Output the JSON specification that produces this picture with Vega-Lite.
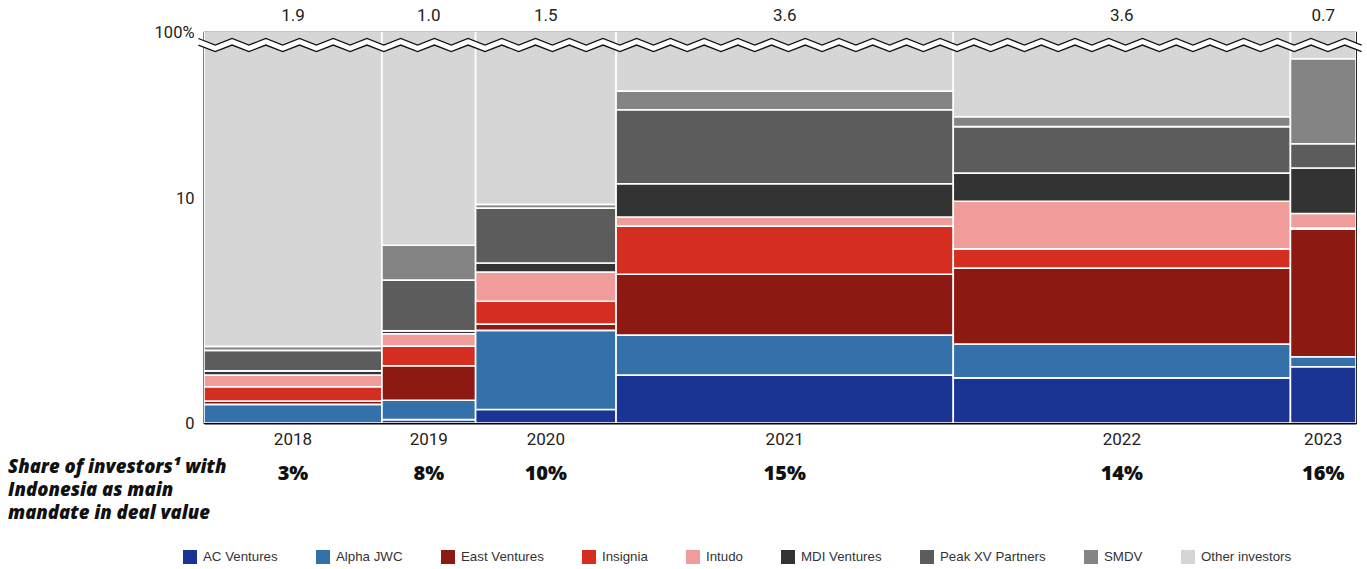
{
  "$schema": "https://vega.github.io/schema/vega-lite/v6.json",
  "width": 1152,
  "height": 391,
  "autosize": {"type": "none"},
  "padding": {"left": 204, "top": 32, "right": 11, "bottom": 146},
  "background": "white",
  "config": {
    "view": {"stroke": "#111", "strokeWidth": 1.2},
    "font": "Roboto",
    "axisX": {"domainColor": "#000", "domainWidth": 2.2, "labels": false, "ticks": false, "grid": false},
    "axisY": {"domainColor": "#000", "domainWidth": 1.6, "ticks": false, "grid": false, "labelFont": "Roboto", "labelFontSize": 16.5, "labelColor": "#222", "labelPadding": 10}
  },
  "datasets": {
    "years": [
      {"year": 2018, "deal": 1.9, "indoShare": 0.03},
      {"year": 2019, "deal": 1.0, "indoShare": 0.08},
      {"year": 2020, "deal": 1.5, "indoShare": 0.10},
      {"year": 2021, "deal": 3.6, "indoShare": 0.15},
      {"year": 2022, "deal": 3.6, "indoShare": 0.14},
      {"year": 2023, "deal": 0.7, "indoShare": 0.16}
    ],
    "shares": [
      {"year": 2018, "investor": "AC Ventures", "share": 0},
      {"year": 2018, "investor": "Alpha JWC", "share": 0.83},
      {"year": 2018, "investor": "East Ventures", "share": 0.15},
      {"year": 2018, "investor": "Insignia", "share": 0.63},
      {"year": 2018, "investor": "Intudo", "share": 0.52},
      {"year": 2018, "investor": "MDI Ventures", "share": 0.19},
      {"year": 2018, "investor": "Peak XV Partners", "share": 0.91},
      {"year": 2018, "investor": "SMDV", "share": 0.18},
      {"year": 2018, "investor": "Other investors", "share": 96.59},
      {"year": 2019, "investor": "AC Ventures", "share": 0.15},
      {"year": 2019, "investor": "Alpha JWC", "share": 0.86},
      {"year": 2019, "investor": "East Ventures", "share": 1.54},
      {"year": 2019, "investor": "Insignia", "share": 0.87},
      {"year": 2019, "investor": "Intudo", "share": 0.55},
      {"year": 2019, "investor": "MDI Ventures", "share": 0.13},
      {"year": 2019, "investor": "Peak XV Partners", "share": 2.26},
      {"year": 2019, "investor": "SMDV", "share": 1.55},
      {"year": 2019, "investor": "Other investors", "share": 92.09},
      {"year": 2020, "investor": "AC Ventures", "share": 0.6},
      {"year": 2020, "investor": "Alpha JWC", "share": 3.52},
      {"year": 2020, "investor": "East Ventures", "share": 0.28},
      {"year": 2020, "investor": "Insignia", "share": 1.02},
      {"year": 2020, "investor": "Intudo", "share": 1.3},
      {"year": 2020, "investor": "MDI Ventures", "share": 0.4},
      {"year": 2020, "investor": "Peak XV Partners", "share": 2.44},
      {"year": 2020, "investor": "SMDV", "share": 0.17},
      {"year": 2020, "investor": "Other investors", "share": 90.27},
      {"year": 2021, "investor": "AC Ventures", "share": 2.13},
      {"year": 2021, "investor": "Alpha JWC", "share": 1.78},
      {"year": 2021, "investor": "East Ventures", "share": 2.71},
      {"year": 2021, "investor": "Insignia", "share": 2.14},
      {"year": 2021, "investor": "Intudo", "share": 0.41},
      {"year": 2021, "investor": "MDI Ventures", "share": 1.48},
      {"year": 2021, "investor": "Peak XV Partners", "share": 3.29},
      {"year": 2021, "investor": "SMDV", "share": 0.83},
      {"year": 2021, "investor": "Other investors", "share": 85.23},
      {"year": 2022, "investor": "AC Ventures", "share": 2.01},
      {"year": 2022, "investor": "Alpha JWC", "share": 1.5},
      {"year": 2022, "investor": "East Ventures", "share": 3.38},
      {"year": 2022, "investor": "Insignia", "share": 0.86},
      {"year": 2022, "investor": "Intudo", "share": 2.12},
      {"year": 2022, "investor": "MDI Ventures", "share": 1.25},
      {"year": 2022, "investor": "Peak XV Partners", "share": 2.07},
      {"year": 2022, "investor": "SMDV", "share": 0.44},
      {"year": 2022, "investor": "Other investors", "share": 86.37},
      {"year": 2023, "investor": "AC Ventures", "share": 2.5},
      {"year": 2023, "investor": "Alpha JWC", "share": 0.45},
      {"year": 2023, "investor": "East Ventures", "share": 5.67},
      {"year": 2023, "investor": "Insignia", "share": 0.05},
      {"year": 2023, "investor": "Intudo", "share": 0.65},
      {"year": 2023, "investor": "MDI Ventures", "share": 2.03},
      {"year": 2023, "investor": "Peak XV Partners", "share": 1.08},
      {"year": 2023, "investor": "SMDV", "share": 3.78},
      {"year": 2023, "investor": "Other investors", "share": 83.79}
    ],
    "axisBreak": [
      {"bx": -0.06, "hi": 17.11, "lo": 16.82}, {"bx": 0.12, "hi": 16.82, "lo": 16.53},
      {"bx": 0.30, "hi": 17.11, "lo": 16.82}, {"bx": 0.48, "hi": 16.82, "lo": 16.53},
      {"bx": 0.66, "hi": 17.11, "lo": 16.82}, {"bx": 0.84, "hi": 16.82, "lo": 16.53},
      {"bx": 1.02, "hi": 17.11, "lo": 16.82}, {"bx": 1.20, "hi": 16.82, "lo": 16.53},
      {"bx": 1.38, "hi": 17.11, "lo": 16.82}, {"bx": 1.56, "hi": 16.82, "lo": 16.53},
      {"bx": 1.74, "hi": 17.11, "lo": 16.82}, {"bx": 1.92, "hi": 16.82, "lo": 16.53},
      {"bx": 2.10, "hi": 17.11, "lo": 16.82}, {"bx": 2.28, "hi": 16.82, "lo": 16.53},
      {"bx": 2.46, "hi": 17.11, "lo": 16.82}, {"bx": 2.64, "hi": 16.82, "lo": 16.53},
      {"bx": 2.82, "hi": 17.11, "lo": 16.82}, {"bx": 3.00, "hi": 16.82, "lo": 16.53},
      {"bx": 3.18, "hi": 17.11, "lo": 16.82}, {"bx": 3.36, "hi": 16.82, "lo": 16.53},
      {"bx": 3.54, "hi": 17.11, "lo": 16.82}, {"bx": 3.72, "hi": 16.82, "lo": 16.53},
      {"bx": 3.90, "hi": 17.11, "lo": 16.82}, {"bx": 4.08, "hi": 16.82, "lo": 16.53},
      {"bx": 4.26, "hi": 17.11, "lo": 16.82}, {"bx": 4.44, "hi": 16.82, "lo": 16.53},
      {"bx": 4.62, "hi": 17.11, "lo": 16.82}, {"bx": 4.80, "hi": 16.82, "lo": 16.53},
      {"bx": 4.98, "hi": 17.11, "lo": 16.82}, {"bx": 5.16, "hi": 16.82, "lo": 16.53},
      {"bx": 5.34, "hi": 17.11, "lo": 16.82}, {"bx": 5.52, "hi": 16.82, "lo": 16.53},
      {"bx": 5.70, "hi": 17.11, "lo": 16.82}, {"bx": 5.88, "hi": 16.82, "lo": 16.53},
      {"bx": 6.06, "hi": 17.11, "lo": 16.82}, {"bx": 6.24, "hi": 16.82, "lo": 16.53},
      {"bx": 6.42, "hi": 17.11, "lo": 16.82}, {"bx": 6.60, "hi": 16.82, "lo": 16.53},
      {"bx": 6.78, "hi": 17.11, "lo": 16.82}, {"bx": 6.96, "hi": 16.82, "lo": 16.53},
      {"bx": 7.14, "hi": 17.11, "lo": 16.82}, {"bx": 7.32, "hi": 16.82, "lo": 16.53},
      {"bx": 7.50, "hi": 17.11, "lo": 16.82}, {"bx": 7.68, "hi": 16.82, "lo": 16.53},
      {"bx": 7.86, "hi": 17.11, "lo": 16.82}, {"bx": 8.04, "hi": 16.82, "lo": 16.53},
      {"bx": 8.22, "hi": 17.11, "lo": 16.82}, {"bx": 8.40, "hi": 16.82, "lo": 16.53},
      {"bx": 8.58, "hi": 17.11, "lo": 16.82}, {"bx": 8.76, "hi": 16.82, "lo": 16.53},
      {"bx": 8.94, "hi": 17.11, "lo": 16.82}, {"bx": 9.12, "hi": 16.82, "lo": 16.53},
      {"bx": 9.30, "hi": 17.11, "lo": 16.82}, {"bx": 9.48, "hi": 16.82, "lo": 16.53},
      {"bx": 9.66, "hi": 17.11, "lo": 16.82}, {"bx": 9.84, "hi": 16.82, "lo": 16.53},
      {"bx": 10.02, "hi": 17.11, "lo": 16.82}, {"bx": 10.20, "hi": 16.82, "lo": 16.53},
      {"bx": 10.38, "hi": 17.11, "lo": 16.82}, {"bx": 10.56, "hi": 16.82, "lo": 16.53},
      {"bx": 10.74, "hi": 17.11, "lo": 16.82}, {"bx": 10.92, "hi": 16.82, "lo": 16.53},
      {"bx": 11.10, "hi": 17.11, "lo": 16.82}, {"bx": 11.28, "hi": 16.82, "lo": 16.53},
      {"bx": 11.46, "hi": 17.11, "lo": 16.82}, {"bx": 11.64, "hi": 16.82, "lo": 16.53},
      {"bx": 11.82, "hi": 17.11, "lo": 16.82}, {"bx": 12.00, "hi": 16.82, "lo": 16.53},
      {"bx": 12.18, "hi": 17.11, "lo": 16.82}, {"bx": 12.36, "hi": 16.82, "lo": 16.53}
    ]
  },
  "layer": [
    {
      "data": {"name": "shares"},
      "transform": [
        {"lookup": "year", "from": {"data": {"name": "years"}, "key": "year", "fields": ["deal"]}},
        {"calculate": "indexof(['AC Ventures','Alpha JWC','East Ventures','Insignia','Intudo','MDI Ventures','Peak XV Partners','SMDV','Other investors'], datum.investor)", "as": "k"},
        {"stack": "share", "groupby": ["year"], "sort": [{"field": "k"}], "as": ["s0", "s1"]},
        {"joinaggregate": [{"op": "count", "as": "n"}], "groupby": ["year"]},
        {"calculate": "datum.deal / datum.n", "as": "w"},
        {"window": [{"op": "sum", "field": "w", "as": "x1"}], "sort": [{"field": "year"}], "ignorePeers": false},
        {"calculate": "datum.x1 - datum.deal", "as": "x0"}
      ],
      "mark": {"type": "rect", "stroke": "white", "strokeWidth": 1.6, "clip": true},
      "encoding": {
        "x": {"field": "x0", "type": "quantitative", "title": null, "scale": {"domain": [0, 12.3], "nice": false, "zero": false}},
        "x2": {"field": "x1"},
        "y": {"field": "s0", "type": "quantitative", "title": null, "scale": {"domain": [0, 17.4], "nice": false},
              "axis": {"values": [0, 10, 17.4], "labelExpr": "datum.value > 15 ? '100%' : datum.label"}},
        "y2": {"field": "s1"},
        "color": {
          "field": "investor", "type": "nominal",
          "scale": {
            "domain": ["AC Ventures", "Alpha JWC", "East Ventures", "Insignia", "Intudo", "MDI Ventures", "Peak XV Partners", "SMDV", "Other investors"],
            "range": ["#1a3494", "#3471ab", "#8c1912", "#d52d20", "#f09c9b", "#333333", "#5c5c5c", "#848484", "#d6d6d6"]
          },
          "legend": {
            "orient": "none", "legendX": -21, "legendY": 518, "direction": "horizontal", "title": null,
            "symbolType": "square", "symbolSize": 196, "symbolStrokeWidth": 0,
            "labelFont": "Liberation Sans", "labelFontSize": 13.3, "labelColor": "#333",
            "labelOffset": 6, "columnPadding": 38
          }
        }
      }
    },
    {
      "data": {"name": "axisBreak"},
      "mark": {"type": "area", "color": "white", "clip": false},
      "encoding": {
        "x": {"field": "bx", "type": "quantitative", "title": null},
        "y": {"field": "hi", "type": "quantitative", "title": null},
        "y2": {"field": "lo"}
      }
    },
    {
      "data": {"name": "axisBreak"},
      "mark": {"type": "line", "color": "#111", "strokeWidth": 1.3, "clip": false},
      "encoding": {
        "x": {"field": "bx", "type": "quantitative", "title": null},
        "y": {"field": "hi", "type": "quantitative", "title": null}
      }
    },
    {
      "data": {"name": "axisBreak"},
      "mark": {"type": "line", "color": "#111", "strokeWidth": 1.3, "clip": false},
      "encoding": {
        "x": {"field": "bx", "type": "quantitative", "title": null},
        "y": {"field": "lo", "type": "quantitative", "title": null}
      }
    },
    {
      "data": {"name": "years"},
      "transform": [
        {"stack": "deal", "groupby": [], "sort": [{"field": "year"}], "as": ["c0", "c1"]},
        {"calculate": "(datum.c0 + datum.c1) / 2", "as": "mid"}
      ],
      "layer": [
        {
          "mark": {"type": "text", "font": "Roboto", "fontSize": 17, "color": "#222", "dy": -16},
          "encoding": {
            "x": {"field": "mid", "type": "quantitative", "title": null},
            "y": {"datum": 17.4},
            "text": {"field": "deal", "type": "quantitative", "format": ".1f"}
          }
        },
        {
          "mark": {"type": "text", "font": "Roboto", "fontSize": 17, "color": "#222", "dy": 17},
          "encoding": {
            "x": {"field": "mid", "type": "quantitative", "title": null},
            "y": {"datum": 0},
            "text": {"field": "year", "type": "nominal"}
          }
        },
        {
          "mark": {"type": "text", "font": "Open Sans", "fontWeight": 800, "fontSize": 20, "color": "#111", "dy": 51},
          "encoding": {
            "x": {"field": "mid", "type": "quantitative", "title": null},
            "y": {"datum": 0},
            "text": {"field": "indoShare", "type": "quantitative", "format": ".0%"}
          }
        }
      ]
    },
    {
      "data": {"values": [{"caption": "Share of investors¹ with"}]},
      "mark": {
        "type": "text", "font": "Open Sans", "fontWeight": 800, "fontStyle": "italic", "fontSize": 18.5,
        "color": "#111", "align": "left", "baseline": "top", "dx": -196, "dy": 35, "lineHeight": 23
      },
      "encoding": {
        "x": {"datum": 0},
        "y": {"datum": 0},
        "text": {"value": ["Share of investors¹ with", "Indonesia as main", "mandate in deal value"]}
      }
    }
  ]
}
